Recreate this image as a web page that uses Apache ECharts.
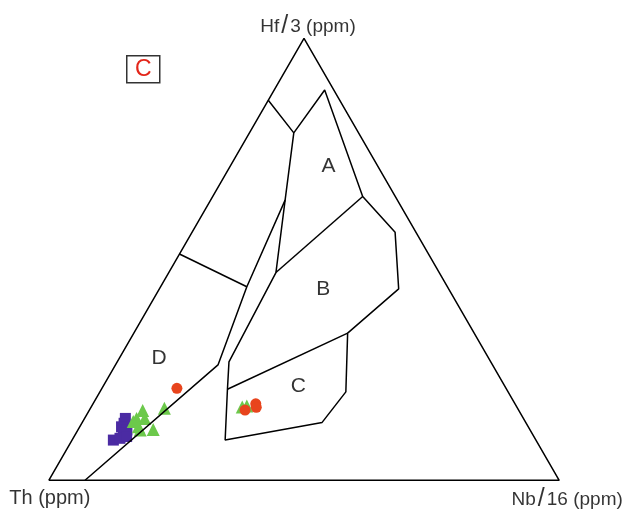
<!DOCTYPE html>
<html>
<head>
<meta charset="utf-8">
<title>Hf/3 – Th – Nb/16 ternary diagram</title>
<script src="https://cdn.jsdelivr.net/npm/echarts@6/dist/echarts.min.js"></script>
<style>
  html, body { margin: 0; padding: 0; background: #ffffff; }
  #chart { width: 627px; height: 509px; }
</style>
</head>
<body>
<div id="chart"></div>
<script>
// Compositions are given as [Th, Hf/3, Nb/16] in percent.

// Apex labels
const apexLabels = { th: 'Th (ppm)', hf: ['Hf', '3 (ppm)'], nb: ['Nb', '16 (ppm)'] };

// Field boundary nodes
const nLeftTop   = [14.0, 86.0, 0.0];
const nKnee      = [12.7, 78.6, 8.7];
const nAPeak     = [1.8, 88.3, 9.9];
const nARight    = [6.4, 64.2, 29.4];
const nSplit     = [22.0, 63.4, 14.6];
const nABJoin    = [32.0, 47.0, 21.0];
const nDInner    = [39.3, 43.8, 16.9];
const nLeftMid   = [48.8, 51.2, 0.0];
const nDBend     = [53.8, 26.1, 20.1];
const nBase      = [92.9, 0.0, 7.1];
const nBLeft     = [51.3, 26.8, 21.9];
const nBCLeft    = [54.7, 20.6, 24.7];
const nCBotLeft  = [60.9, 9.1, 30.0];
const nCBotRight = [39.9, 13.1, 47.0];
const nCRight    = [31.8, 20.0, 48.2];
const nBCRight   = [24.8, 33.3, 41.9];
const nBRightLow = [9.8, 43.3, 46.9];
const nBRightUp  = [4.1, 56.1, 39.8];

// Boundary polylines
const outline = [[100, 0, 0], [0, 0, 100], [0, 100, 0], [100, 0, 0]];
const boundaries = [
  [nLeftTop, nKnee, nAPeak, nARight, nBRightUp, nBRightLow, nBCRight, nCRight, nCBotRight, nCBotLeft, nBCLeft, nBLeft, nABJoin, nSplit, nKnee],
  [nSplit, nDInner, nDBend, nBase],
  [nLeftMid, nDInner],
  [nABJoin, nARight],
  [nBCLeft, nBCRight]
];

// Field names and their positions
const fieldNames = ['A', 'B', 'C', 'D'];
const fieldSpots = [[9.7, 71.0, 19.3], [24.6, 43.3, 32.1], [40.5, 21.2, 38.3], [64.6, 27.6, 7.8]];

// Samples
const redCircles = [[64.5, 20.8, 14.7], [53.6, 15.9, 30.5], [50.8, 17.3, 31.9], [51.1, 16.5, 32.4]];
const greenTriangles = [
  [53.8, 16.6, 29.6], [52.8, 16.8, 30.4],
  [73.7, 15.8, 10.5], [69.2, 16.3, 14.5], [75.8, 14.0, 10.2], [74.2, 14.0, 11.8],
  [76.8, 13.3, 9.9], [76.4, 12.1, 11.5], [73.8, 11.5, 14.7], [76.4, 11.4, 12.2]
];
const purpleSquares = [
  [78.0, 14.0, 8.0], [78.8, 12.9, 8.3], [79.7, 12.1, 8.2], [79.0, 11.4, 9.6],
  [80.1, 10.6, 9.3], [82.8, 9.1, 8.1], [81.3, 9.5, 9.2], [79.8, 9.9, 10.3]
];

const H = Math.sqrt(3) / 2;
function toXY(p) {
  const s = p[0] + p[1] + p[2];
  const hf = p[1] / s, nb = p[2] / s;
  return [nb + hf / 2, hf * H];
}

const FONT = '"Liberation Sans", Arial, Helvetica, sans-serif';
const lineStyle = { color: '#000', width: 1.5 };

const series = [];

function lineSeries(pts) {
  return {
    type: 'line', data: pts.map(toXY), symbol: 'none', z: 5,
    lineStyle: lineStyle, silent: true, animation: false
  };
}
series.push(lineSeries(outline));
boundaries.forEach(b => series.push(lineSeries(b)));

function scatter(pts, symbol, size, color, z) {
  return {
    type: 'scatter', data: pts.map(toXY), symbol: symbol, symbolSize: size, z: z,
    itemStyle: { color: color, opacity: 1 }, silent: true, animation: false
  };
}
series.push(scatter(purpleSquares, 'rect', 11, '#4b2ba3', 2));
series.push(scatter(greenTriangles, 'triangle', 13, '#6cc94b', 3));
series.push(scatter(redCircles, 'circle', 11, '#e8441d', 4));

// Field letters
series.push({
  type: 'scatter', symbolSize: 0, silent: true, animation: false, z: 6,
  data: fieldSpots.map((p, i) => ({ value: toXY(p), name: fieldNames[i] })),
  label: {
    show: true, position: 'inside', formatter: '{b}',
    color: '#000', fontSize: 21, fontFamily: FONT
  }
});

// Apex labels
const slashRich = {
  a: { fontSize: 19, fontFamily: FONT, color: '#000' },
  s: { fontSize: 25, fontFamily: FONT, color: '#000', padding: [0, 2, 0, 2] }
};
series.push({
  type: 'scatter', symbolSize: 0, silent: true, animation: false, z: 6,
  data: [
    { value: toXY([100, 0, 0]), label: { offset: [1, 18], formatter: apexLabels.th, fontSize: 20, fontFamily: FONT, color: '#000' } },
    { value: toXY([0, 100, 0]), label: { offset: [4, -12], formatter: '{a|' + apexLabels.hf[0] + '}{s|/}{a|' + apexLabels.hf[1] + '}', rich: slashRich } },
    { value: toXY([0, 0, 100]), label: { offset: [8, 19], formatter: '{a|' + apexLabels.nb[0] + '}{s|/}{a|' + apexLabels.nb[1] + '}', rich: slashRich } }
  ],
  label: { show: true, position: 'inside' }
});

const chart = echarts.init(document.getElementById('chart'), null, { renderer: 'canvas' });
chart.setOption({
  animation: false,
  backgroundColor: '#ffffff',
  grid: { left: 48.8, top: 38.3, width: 510.4, height: 442 },
  xAxis: { type: 'value', min: 0, max: 1, show: false },
  yAxis: { type: 'value', min: 0, max: H, show: false },
  graphic: [{
    type: 'group', left: 126, top: 55,
    children: [
      { type: 'rect', shape: { x: 0, y: 0, width: 33, height: 27 }, style: { fill: '#fff', stroke: '#333', lineWidth: 1.5 } },
      { type: 'text', x: 16.5, y: 14, style: { text: 'C', fill: '#e3261a', font: '23px ' + FONT, textAlign: 'center', textVerticalAlign: 'middle' } }
    ]
  }],
  series: series
});
</script>
</body>
</html>
